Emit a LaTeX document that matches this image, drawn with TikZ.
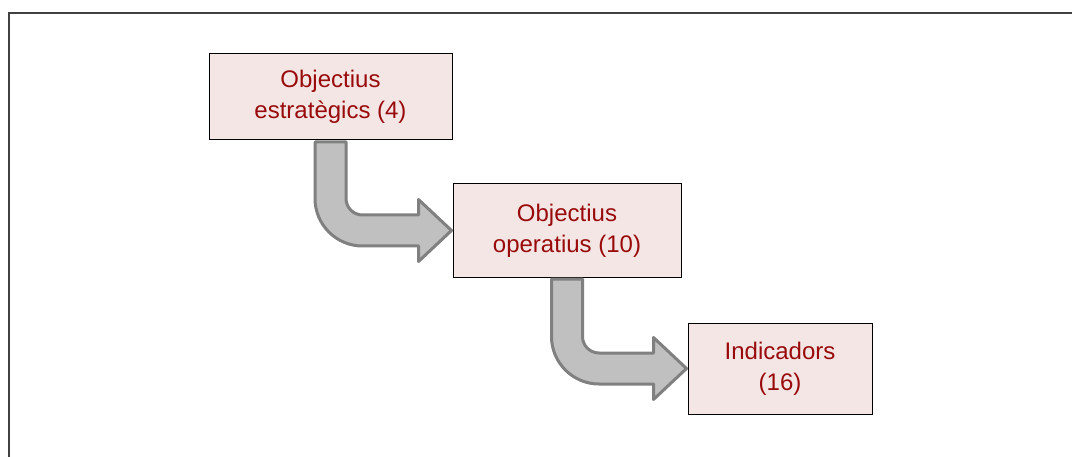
\documentclass[tikz,border=0pt]{standalone}
\usepackage{fontspec}
\setmainfont{Liberation Sans}
\usepackage{tikz}
\usetikzlibrary{calc}
\definecolor{boxfill}{HTML}{F5E6E6}
\definecolor{boxtext}{HTML}{990A0A}
\definecolor{arrowfill}{HTML}{C0C0C0}
\definecolor{arrowline}{HTML}{808080}
\newcommand{\bentarrow}[2]{%
\draw[line width=3pt, arrowline, fill=arrowfill, line join=round]
  let \p1=($(#1.south)+(0,-1.5)$), \p2=($(#2.west)+(-1,0)$) in
  (\x1-15.5,\y1) -- (\x1-15.5,\y2+32) arc (180:270:47.5) -- (\x2-33,\y2-15.5)
  -- (\x2-33,\y2-31) -- (\x2,\y2) -- (\x2-33,\y2+31) -- (\x2-33,\y2+15.5)
  -- (\x1+32,\y2+15.5) arc (270:180:16.5) -- (\x1+15.5,\y1) -- cycle;}

\begin{document}
\begin{tikzpicture}[x=1pt,y=1pt,
  goalbox/.style={draw=black, line width=1pt, fill=boxfill, text=boxtext,
    align=center, inner sep=0pt, font=\fontsize{24}{31}\selectfont}]
\useasboundingbox (0,0) rectangle (1072,456);
\draw[line width=1.5pt, black!75] (9,443) rectangle (1090,-20);
\node[goalbox, minimum width=243pt, minimum height=86pt] (strat) at (330.5,359) {Objectius\\estratègics (4)};
\node[goalbox, minimum width=228pt, minimum height=93pt] (oper) at (567,225.5) {Objectius\\operatius (10)};
\node[goalbox, minimum width=184pt, minimum height=91pt] (indic) at (780,87.5) {Indicadors\\(16)};
\bentarrow{strat}{oper}
\bentarrow{oper}{indic}
\end{tikzpicture}
\end{document}
